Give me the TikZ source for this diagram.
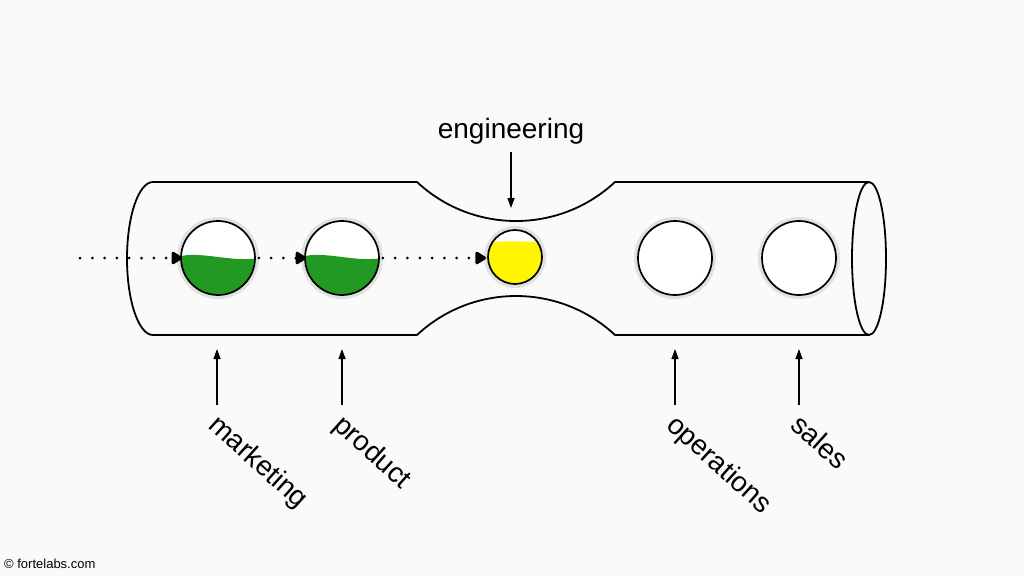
\documentclass[tikz,border=0pt]{standalone}
\usepackage{fontspec}
\setmainfont{Liberation Sans}
\usetikzlibrary{arrows.meta}
\definecolor{bgc}{RGB}{250,250,250}
\definecolor{liquid}{RGB}{34,153,34}
\definecolor{yel}{RGB}{255,245,0}
\tikzset{
  tube/.style={line width=1.8pt, line join=round},
  ball/.style={circle, draw=black, line width=1.7pt, minimum size=#1, inner sep=0pt},
  halo/.style={draw=black!12, line width=5pt},
  lbl/.style={font=\fontsize{28}{30}\selectfont, inner sep=0pt},
  dept/.style={lbl, rotate=-42, anchor=base west},
  arr/.style={-{Triangle[length=10pt,width=7pt]}, line width=1.3pt},
  flow/.style={line width=3pt, dash pattern=on 0pt off 12.3pt, line cap=round,
    -{Triangle[length=12pt,width=14pt,round=false]}},
}
\begin{document}
\begin{tikzpicture}[x=1pt,y=-1pt]
\useasboundingbox (0,0) rectangle (1024,576);
\fill[bgc] (0,0) rectangle (1024,576);

% tube
\draw[tube] (869,182) -- (615,182)
  .. controls (559.3,234) and (472.7,234) .. (417,182) -- (153,182)
  .. controls (138.6,182) and (127,216.25) .. (127,258.5)
  .. controls (127,300.75) and (138.6,335) .. (153,335) -- (417,335)
  .. controls (472.7,283) and (559.3,283) .. (615,335) -- (869,335);
\draw[tube] (869,258.5) ellipse[x radius=17, y radius=76.5];

% halos
\foreach \x/\y/\r in {218/258/38.5, 342/258/38.5, 515/257/28.5, 675/258/38.5, 799/258/38.5}
  \draw[halo] (\x,\y) circle[radius=\r];

% balls
\node[ball=74pt, fill=white, path picture={
  \fill[liquid, shift={(path picture bounding box.center)}]
    (-40,-1) .. controls (-20,-8) and (15,5) .. (40,0) -- (40,45) -- (-40,45) -- cycle;}]
  (c1) at (218,258) {};
\node[ball=74pt, fill=white, path picture={
  \fill[liquid, shift={(path picture bounding box.center)}]
    (-40,-1) .. controls (-20,-8) and (15,5) .. (40,0) -- (40,45) -- (-40,45) -- cycle;}]
  (c2) at (342,258) {};
\node[ball=54pt, fill=white, path picture={
  \fill[yel, shift={(path picture bounding box.center)}]
    (-30,-13) .. controls (-12,-18) and (10,-14) .. (30,-16) -- (30,30) -- (-30,30) -- cycle;}]
  (c3) at (515,257) {};
\node[ball=74pt, fill=white] (c4) at (675,258) {};
\node[ball=74pt, fill=white] (c5) at (799,258) {};

% flow
\coordinate (src) at (80,258);
\coordinate (c3in) at (486,258);
\draw[flow] (src) -- ([xshift=2pt]c1.west);
\draw[flow] ([xshift=3pt]c1.east) -- ([xshift=2pt]c2.west);
\draw[flow] ([xshift=3pt]c2.east) -- (c3in);

% engineering
\node[lbl, anchor=base] (eng) at (511,138) {engineering};
\coordinate (engtail) at (511,152);
\coordinate (engtip) at (511,208);
\draw[arr] (engtail) -- (engtip);

% departments
\foreach \n/\x/\t in {mk/217/marketing, pr/342/product, op/675/operations, sa/799/sales}{
  \coordinate (\n tail) at (\x,405);
  \coordinate (\n tip) at (\x,349);
  \draw[arr] (\n tail) -- (\n tip);
  \node[dept] (\n) at (\x-10,427) {\t};
}

% credit
\node[font=\fontsize{13}{15}\selectfont, anchor=base west, inner sep=0pt] (credit) at (4,568) {© fortelabs.com};
\end{tikzpicture}
\end{document}
